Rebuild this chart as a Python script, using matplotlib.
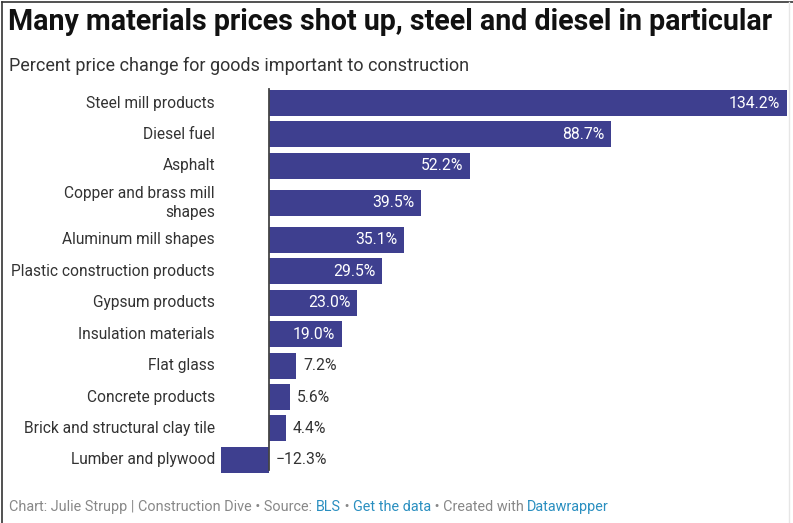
import matplotlib
matplotlib.use("Agg")
import matplotlib.pyplot as plt
from matplotlib.lines import Line2D

plt.rcParams["font.family"] = ["Roboto", "DejaVu Sans"]

categories = [
    "Steel mill products", "Diesel fuel", "Asphalt",
    "Copper and brass mill\nshapes", "Aluminum mill shapes",
    "Plastic construction products", "Gypsum products",
    "Insulation materials", "Flat glass", "Concrete products",
    "Brick and structural clay tile", "Lumber and plywood",
]
values = [134.2, 88.7, 52.2, 39.5, 35.1, 29.5, 23.0, 19.0, 7.2, 5.6, 4.4, -12.3]

W, H = 793, 523
fig = plt.figure(figsize=(W / 100, H / 100), dpi=100)

def fx(px):
    return px / W

def fy(py):
    return 1 - py / H

# row layout in pixels: two-line labels get a taller row
row_gap = 31.45
extra = 11
rows = []
pos = 103.0
for i, c in enumerate(categories):
    if i > 0:
        pos += row_gap
        if "\n" in c or "\n" in categories[i - 1]:
            pos += extra / 2
    rows.append(pos)

top_px, bot_px = 87, 476
ax = fig.add_axes([fx(221), fy(bot_px), fx(787) - fx(221), (bot_px - top_px) / H])
ax.set_xlim(min(values), max(values))
ax.set_ylim(bot_px, top_px)
ax.axis("off")

bar_color = "#3e3f8f"
ax.barh(rows, values, height=26, color=bar_color, edgecolor="none")
ax.axvline(0, ymin=0.015, ymax=0.995, color="#444444", linewidth=1.3)

for yi, v in zip(rows, values):
    lab = f"{v:.1f}%".replace("-", "\u2212")
    if v >= 15:
        ax.annotate(lab, (v, yi), xytext=(-5, 0), textcoords="offset points",
                    ha="right", va="center", color="white", fontsize=11.3)
    elif v >= 0:
        ax.annotate(lab, (v, yi), xytext=(5, 0), textcoords="offset points",
                    ha="left", va="center", color="#333333", fontsize=11.3)
    else:
        ax.annotate(lab, (0, yi), xytext=(5, 0), textcoords="offset points",
                    ha="left", va="center", color="#333333", fontsize=11.3)

for yi, c in zip(rows, categories):
    ax.annotate(c, (fx(215), yi), xycoords=("figure fraction", "data"),
                ha="right", va="center", color="#333333", fontsize=11.2,
                linespacing=1.3)

fig.text(fx(8), fy(22), "Many materials prices shot up, steel and diesel in particular",
         fontsize=20.6, fontweight="bold", color="#111111", va="center", ha="left")
fig.text(fx(9), fy(66), "Percent price change for goods important to construction",
         fontsize=13, color="#333333", va="center", ha="left")

# footer, chained segments
footer_text = [
    "Chart: Julie Strupp | Construction Dive \u2022 Source: ",
    "BLS", " \u2022 ", "Get the data", " \u2022 Created with ", "Datawrapper",
]
footer_color = ["#888888", "#2a8fc0", "#888888", "#2a8fc0", "#888888", "#2a8fc0"]
prev = fig.text(fx(9), fy(507), footer_text[0], fontsize=10.4, color=footer_color[0],
                va="center", ha="left")
for s, col in zip(footer_text[1:], footer_color[1:]):
    prev = ax.annotate(s, xy=(1, 0.5), xycoords=prev, va="center", ha="left",
                       fontsize=10.4, color=col, annotation_clip=False)

# frame lines
fig.add_artist(Line2D([fx(1.5), fx(1.5)], [0, fy(1.5)], color="#333333", linewidth=1.2))
fig.add_artist(Line2D([fx(1.5), 1], [fy(1.5), fy(1.5)], color="#333333", linewidth=1.2))
fig.add_artist(Line2D([fx(789), fx(789)], [0, fy(1.5)], color="#e6e6e6", linewidth=1))

fig.savefig("out.png", dpi=100)
